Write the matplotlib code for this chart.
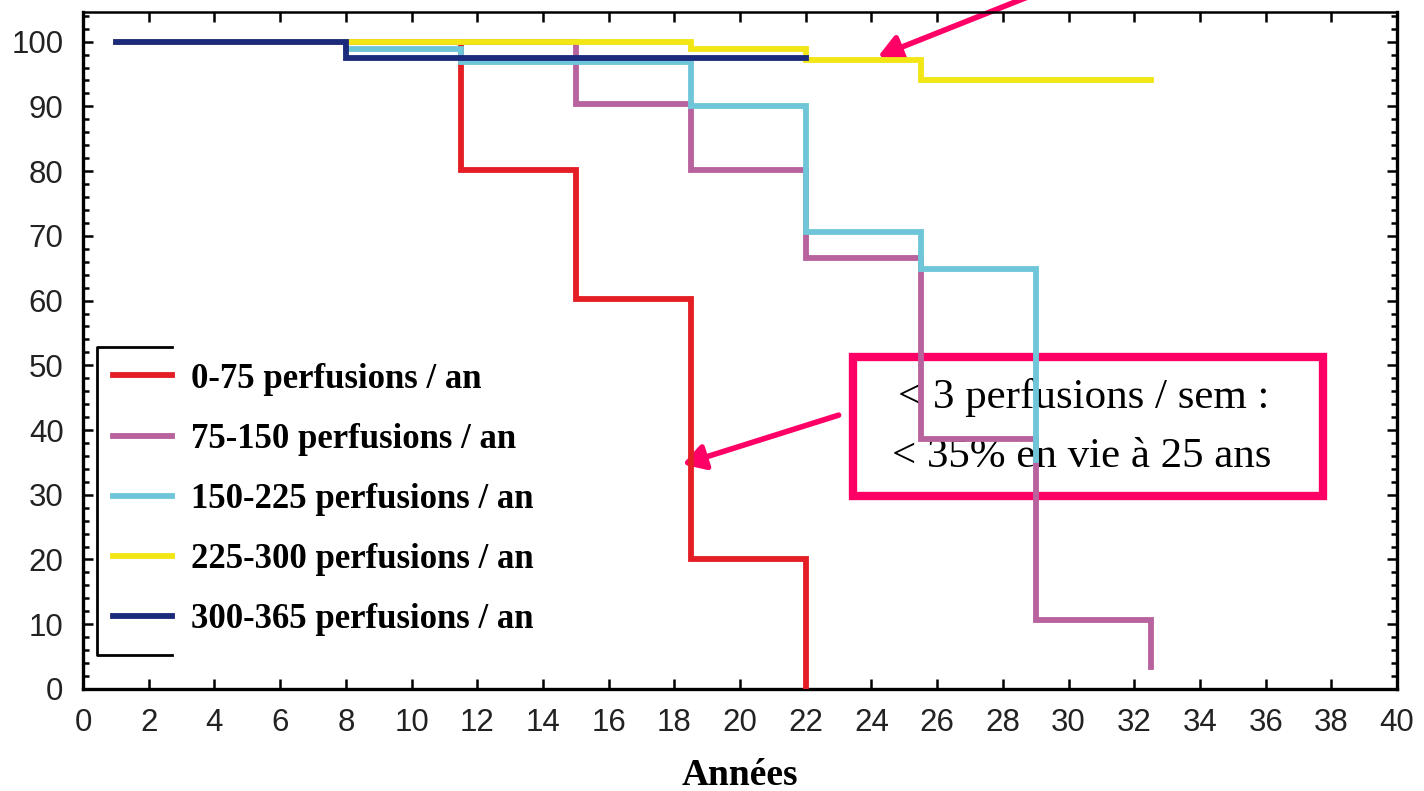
import matplotlib
matplotlib.use("Agg")
import matplotlib.pyplot as plt
from matplotlib.patches import Rectangle
from matplotlib.lines import Line2D

# courbes de survie par groupe (annees, % en vie), en escalier
groups = ["0-75 perfusions / an", "75-150 perfusions / an", "150-225 perfusions / an",
          "225-300 perfusions / an", "300-365 perfusions / an"]
colors = ["#E31E24", "#B8629E", "#6EC6D8", "#F2E614", "#1C2A7C"]

t_red = [1, 11.5, 15, 18.5, 22]
s_red = [100, 80.2, 60.3, 20.1, 0]
t_mag = [1, 15, 18.5, 22, 25.5, 29, 32.5]
s_mag = [100, 90.3, 80.2, 66.5, 38.6, 10.7, 3.4]
t_cyan = [1, 8, 11.5, 18.5, 22, 25.5, 29]
s_cyan = [100, 98.8, 96.9, 90.1, 70.6, 64.8, 35.4]
t_yel = [1, 18.5, 22, 25.5, 32.5]
s_yel = [100, 98.9, 97.1, 94.0, 94.0]
t_blue = [1, 8, 22]
s_blue = [100, 97.5, 97.5]

times = [t_red, t_mag, t_cyan, t_yel, t_blue]
surv = [s_red, s_mag, s_cyan, s_yel, s_blue]

box_lines = ["< 3 perfusions / sem :", "< 35% en vie à 25 ans"]

fig = plt.figure(figsize=(14.24, 7.91), dpi=100)
ax = fig.add_axes([0.0583, 0.129, 0.9228, 0.856])

handles = []
for i in range(len(groups)):
    ln, = ax.plot(times[i], surv[i], drawstyle="steps-post", color=colors[i],
                  lw=4.2, zorder=3 + i, solid_joinstyle="miter", label=groups[i])
    handles.append(ln)

ax.set_xlim(0, 40)
ax.set_ylim(0, 104.6)
ax.set_xticks(range(0, 41, 2))
ax.set_yticks(range(0, 101, 10))
ax.set_yticks(range(0, 105, 2), minor=True)
ax.tick_params(which="both", direction="in", top=True, right=True, width=1.8)
ax.tick_params(which="major", length=7, labelsize=22.5, pad=14, labelcolor="#222222")
ax.tick_params(which="minor", length=4)
ax.tick_params(axis="x", which="minor", top=False, bottom=False)
for lab in ax.get_xticklabels() + ax.get_yticklabels():
    lab.set_family("Liberation Sans")
for sp in ax.spines.values():
    sp.set_linewidth(2.4)
ax.spines["top"].set_linewidth(1.8)

ax.set_xlabel("Années", family="Liberation Serif", fontweight="bold", fontsize=27, labelpad=14)

# legende (cadre ouvert a droite)
leg = ax.legend(handles=handles, loc="upper left", bbox_to_anchor=(0.0228, 0.482),
                frameon=False, prop={"family": "Liberation Serif", "weight": "bold", "size": 25},
                handlelength=1.7, handletextpad=0.55, labelspacing=0.78,
                borderpad=0, borderaxespad=0)
for h in leg.get_lines():
    h.set_linewidth(4.2)
bx0, bx1, by0, by1 = 0.0107, 0.0677, 0.050, 0.505
ax.add_line(Line2D([bx1, bx0, bx0, bx1], [by1, by1, by0, by0], transform=ax.transAxes,
                   color="black", lw=2, clip_on=False, zorder=2))

# encadre rose + fleches (sous les courbes)
pink = "#FF0066"
ax.add_patch(Rectangle((23.45, 29.8), 14.3, 21.5, fill=False, edgecolor=pink, lw=6,
                       joinstyle="miter", zorder=1))
ax.text(30.45, 45.0, box_lines[0], ha="center", va="center", family="Liberation Serif",
        fontsize=31, zorder=1)
ax.text(30.4, 35.8, box_lines[1], ha="center", va="center", family="Liberation Serif",
        fontsize=31, zorder=1)
arrow_kw = dict(arrowstyle="-|>,head_length=0.6,head_width=0.35", color=pink, lw=4,
                mutation_scale=22, shrinkA=0, shrinkB=0)
ax.annotate("", xy=(18.25, 34.7), xytext=(23.0, 42.3), arrowprops=arrow_kw, zorder=2)
ax.annotate("", xy=(24.2, 97.7), xytext=(29.3, 108.0), arrowprops=arrow_kw,
            zorder=2, annotation_clip=False).arrow_patch.set_clip_on(False)

fig.savefig("out.png", dpi=100)
